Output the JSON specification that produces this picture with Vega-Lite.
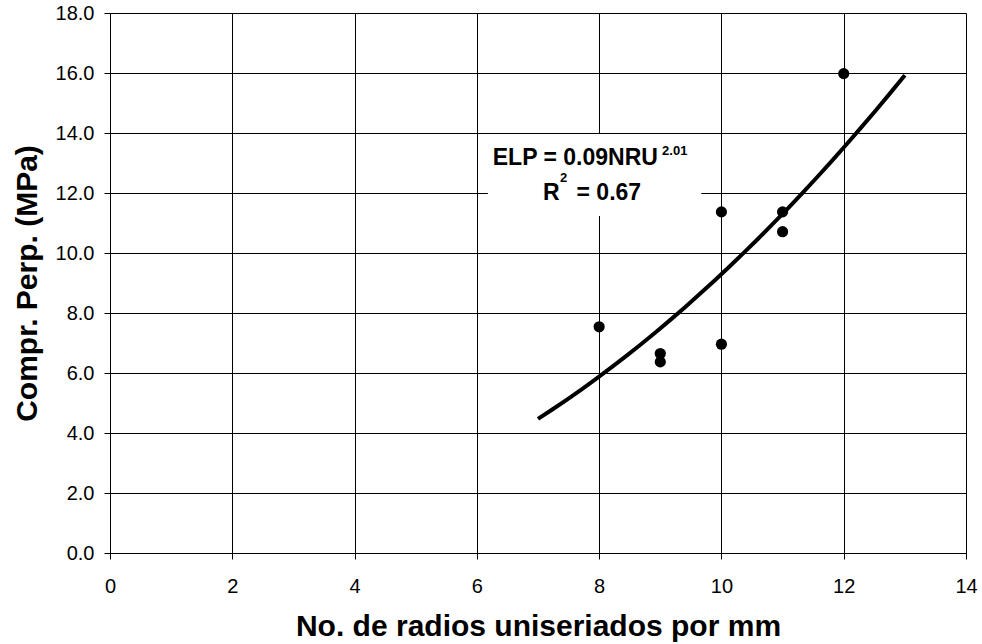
{
  "$schema": "https://vega.github.io/schema/vega-lite/v6.json",
  "width": 856,
  "height": 540,
  "autosize": "none",
  "padding": {"left": 110, "top": 13, "right": 16, "bottom": 91},
  "background": "white",
  "config": {
    "view": {"stroke": null},
    "font": "Liberation Sans",
    "axis": {
      "gridColor": "#000000",
      "gridOpacity": 1,
      "gridWidth": 1,
      "domainColor": "#000000",
      "domainWidth": 1,
      "tickColor": "#000000",
      "tickSize": 6,
      "tickWidth": 1,
      "labelColor": "#000000",
      "labelFont": "Liberation Sans",
      "labelFontSize": 20,
      "titleFont": "Liberation Sans",
      "titleFontSize": 30,
      "titleFontWeight": "bold",
      "titleColor": "#000000"
    }
  },
  "datasets": {
    "points": [
      {"nru": 8, "elp": 7.54},
      {"nru": 9, "elp": 6.65},
      {"nru": 9, "elp": 6.37},
      {"nru": 10, "elp": 6.96},
      {"nru": 10, "elp": 11.37},
      {"nru": 11, "elp": 11.37},
      {"nru": 11, "elp": 10.71},
      {"nru": 12, "elp": 15.98}
    ]
  },
  "resolve": {"scale": {"x": "shared", "y": "shared"}},
  "layer": [
    {
      "data": {"name": "points"},
      "mark": {"type": "circle", "color": "black", "opacity": 0, "size": 1},
      "encoding": {
        "x": {
          "field": "nru",
          "type": "quantitative",
          "scale": {"domain": [0, 14], "nice": false, "zero": false},
          "axis": {
            "values": [0, 2, 4, 6, 8, 10, 12, 14],
            "format": "d",
            "title": "No. de radios uniseriados por mm",
            "labelPadding": 17,
            "labelFlush": false,
            "titleX": 428,
            "titleY": 82,
            "titleAlign": "center",
            "titleBaseline": "alphabetic"
          }
        },
        "y": {
          "field": "elp",
          "type": "quantitative",
          "scale": {"domain": [0, 18], "nice": false, "zero": false},
          "axis": {
            "values": [0, 2, 4, 6, 8, 10, 12, 14, 16, 18],
            "format": ".1f",
            "title": "Compr. Perp. (MPa)",
            "labelPadding": 10,
            "labelFlush": false,
            "titleAngle": -90,
            "titleX": -74,
            "titleY": 270,
            "titleAlign": "center",
            "titleBaseline": "alphabetic"
          }
        }
      }
    },
    {
      "data": {"values": [{"id": 1}]},
      "mark": {"type": "rect", "fill": "white", "stroke": null},
      "encoding": {
        "x": {"datum": 6.18, "type": "quantitative"},
        "x2": {"datum": 9.67},
        "y": {"datum": 11.23, "type": "quantitative"},
        "y2": {"datum": 13.97}
      }
    },
    {
      "data": {"values": [{"id": 1}]},
      "mark": {"type": "text", "align": "left", "baseline": "alphabetic", "fontSize": 23, "fontWeight": "bold", "color": "black", "font": "Liberation Sans"},
      "encoding": {"x": {"datum": 6.26, "type": "quantitative"}, "y": {"datum": 12.93, "type": "quantitative"}, "text": {"value": "ELP = 0.09NRU"}}
    },
    {
      "data": {"values": [{"id": 1}]},
      "mark": {"type": "text", "align": "left", "baseline": "alphabetic", "fontSize": 13, "fontWeight": "bold", "color": "black", "font": "Liberation Sans"},
      "encoding": {"x": {"datum": 9.03, "type": "quantitative"}, "y": {"datum": 13.27, "type": "quantitative"}, "text": {"value": "2.01"}}
    },
    {
      "data": {"values": [{"id": 1}]},
      "mark": {"type": "text", "align": "left", "baseline": "alphabetic", "fontSize": 23, "fontWeight": "bold", "color": "black", "font": "Liberation Sans"},
      "encoding": {"x": {"datum": 7.08, "type": "quantitative"}, "y": {"datum": 11.77, "type": "quantitative"}, "text": {"value": "R"}}
    },
    {
      "data": {"values": [{"id": 1}]},
      "mark": {"type": "text", "align": "left", "baseline": "alphabetic", "fontSize": 13, "fontWeight": "bold", "color": "black", "font": "Liberation Sans"},
      "encoding": {"x": {"datum": 7.36, "type": "quantitative"}, "y": {"datum": 12.38, "type": "quantitative"}, "text": {"value": "2"}}
    },
    {
      "data": {"values": [{"id": 1}]},
      "mark": {"type": "text", "align": "left", "baseline": "alphabetic", "fontSize": 23, "fontWeight": "bold", "color": "black", "font": "Liberation Sans"},
      "encoding": {"x": {"datum": 7.63, "type": "quantitative"}, "y": {"datum": 11.77, "type": "quantitative"}, "text": {"value": "= 0.67"}}
    },
    {
      "data": {"name": "points"},
      "transform": [
        {"regression": "elp", "on": "nru", "method": "pow", "extent": [7, 13]}
      ],
      "mark": {"type": "line", "color": "black", "strokeWidth": 4},
      "encoding": {
        "x": {"field": "nru", "type": "quantitative"},
        "y": {"field": "elp", "type": "quantitative"}
      }
    },
    {
      "data": {"name": "points"},
      "mark": {"type": "circle", "color": "black", "opacity": 1, "size": 125},
      "encoding": {
        "x": {"field": "nru", "type": "quantitative"},
        "y": {"field": "elp", "type": "quantitative"}
      }
    }
  ]
}
